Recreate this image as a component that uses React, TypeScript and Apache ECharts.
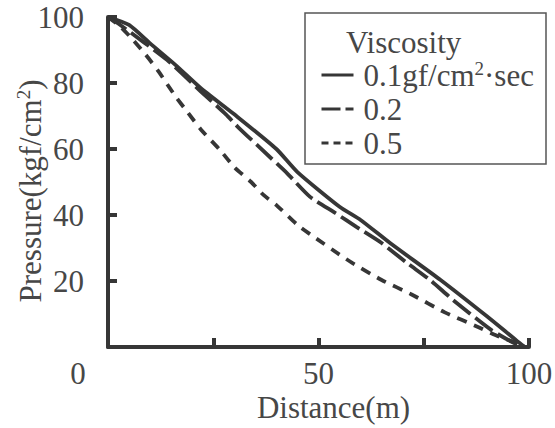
import React, { useEffect, useRef } from "react";
import * as echarts from "echarts";

const seriesNames = ["0.1", "0.2", "0.5"];
const visc01: [number, number][] = [[0,100],[5,97.6],[10,92],[16,85.5],[22,78.5],[30,70.5],[40,60],[45,53],[55,42.5],[60,38.5],[67,31.5],[79,20.3],[90,9.3],[97,2],[99,0]];
const visc02: [number, number][] = [[0,100],[3,97.5],[14,87],[22,77.5],[28,70.5],[31,66.5],[38.5,57.5],[42.5,52.7],[48,45.5],[54,40.6],[59,36.4],[65,31.5],[71,25.5],[76.5,20.3],[82,14.2],[91,5.2],[96,1.5],[99,0]];
const visc05: [number, number][] = [[0,100],[3,97],[6,93],[9,88.5],[12,83.5],[16,76],[19,71],[22,66],[26.6,59.7],[30,54.5],[34,50],[37,46],[40,43],[45,37],[49,33.3],[55,28],[58,25.5],[65,20.3],[72,16],[80,10.5],[88,6],[92,3.6],[97,1.2],[99,0]];
const xTicks = [0, 25, 50, 75, 100];
const yTicks = [0, 20, 40, 60, 80, 100];

const FONT = '"Liberation Serif", "DejaVu Serif", serif';
const FS = 31;
const INK = "#363636";
const TXT = "#474747";

export default function App() {
  const ref = useRef<HTMLDivElement>(null);
  useEffect(() => {
    const chart = echarts.init(ref.current!, null, { renderer: "svg" });
    const lineCommon = { type: "line", showSymbol: false, symbol: "none", smooth: 0.2 };
    const sup = { fontFamily: FONT, fontSize: 19, color: TXT, verticalAlign: "top", padding: [0, 0, 13, 0] };
    chart.setOption({
      animation: false,
      backgroundColor: "#fff",
      grid: { left: 108, right: 26, top: 17, bottom: 81, containLabel: false, outerBoundsMode: "none" },
      xAxis: {
        type: "value",
        min: xTicks[0],
        max: xTicks[xTicks.length - 1],
        interval: 25,
        name: "Distance(m)",
        nameLocation: "middle",
        nameGap: 45,
        nameMoveOverlap: false,
        nameTextStyle: { fontFamily: FONT, fontSize: FS, color: TXT, padding: [0, 0, 0, 30] },
        axisLine: { lineStyle: { color: INK, width: 4 } },
        axisTick: { inside: true, length: 9, lineStyle: { color: INK, width: 4 } },
        splitLine: { show: false },
        axisLabel: {
          fontFamily: FONT, fontSize: FS, color: TXT, margin: 11,
          formatter: (v: number) => (v === 0 ? "{o|0}" : v === 50 || v === 100 ? String(v) : ""),
          rich: { o: { fontFamily: FONT, fontSize: FS, color: TXT, padding: [0, 60, 0, 0] } },
        },
      },
      yAxis: {
        type: "value",
        min: yTicks[0],
        max: yTicks[yTicks.length - 1],
        interval: 20,
        name: "Pressure(kgf/cm{s|2})",
        nameLocation: "middle",
        nameGap: 62,
        nameRotate: 90,
        nameMoveOverlap: false,
        nameTextStyle: { fontFamily: FONT, fontSize: FS, color: TXT, padding: [0, 18, 0, 0], rich: { s: sup } },
        axisLine: { show: true, lineStyle: { color: INK, width: 4 } },
        axisTick: { show: true, inside: true, length: 9, lineStyle: { color: INK, width: 4 } },
        splitLine: { show: false },
        axisLabel: {
          fontFamily: FONT, fontSize: FS, color: TXT, margin: 24,
          formatter: (v: number) => (v === 0 ? "" : String(v)),
        },
      },
      legend: {
        orient: "vertical",
        left: 315,
        top: 54,
        itemWidth: 32,
        itemHeight: 14,
        itemGap: 3,
        itemStyle: { opacity: 0 },
        textStyle: { fontFamily: FONT, fontSize: FS, color: TXT, padding: [0, 0, 0, 5], rich: { s: sup } },
        formatter: (n: string) => (n === "0.1" ? "0.1gf/cm{s|2}·sec" : n),
        data: [
          { name: seriesNames[0], lineStyle: { type: "solid", width: 3 } },
          { name: seriesNames[1], lineStyle: { type: [19, 5], width: 3 } },
          { name: seriesNames[2], lineStyle: { type: [7, 5], width: 3 } },
        ],
      },
      graphic: [
        { type: "rect", shape: { x: 305, y: 13, width: 241, height: 151 }, style: { fill: "none", stroke: "#555", lineWidth: 1.5 }, z: 10 },
        { type: "text", x: 346, y: 42, style: { text: "Viscosity", fontFamily: FONT, fontSize: FS, fill: TXT, verticalAlign: "middle" }, z: 10 },
      ],
      series: [
        { ...lineCommon, name: seriesNames[0], data: visc01, lineStyle: { color: INK, width: 3.8, type: "solid" }, itemStyle: { color: INK } },
        { ...lineCommon, name: seriesNames[1], data: visc02, lineStyle: { color: INK, width: 3.8, type: [22, 6] }, itemStyle: { color: INK } },
        { ...lineCommon, name: seriesNames[2], data: visc05, lineStyle: { color: INK, width: 3.8, type: [10, 8] }, itemStyle: { color: INK } },
      ],
    });
    return () => chart.dispose();
  }, []);
  return <div ref={ref} style={{ position: "fixed", left: 0, top: 0, width: 555, height: 428 }} />;
}
